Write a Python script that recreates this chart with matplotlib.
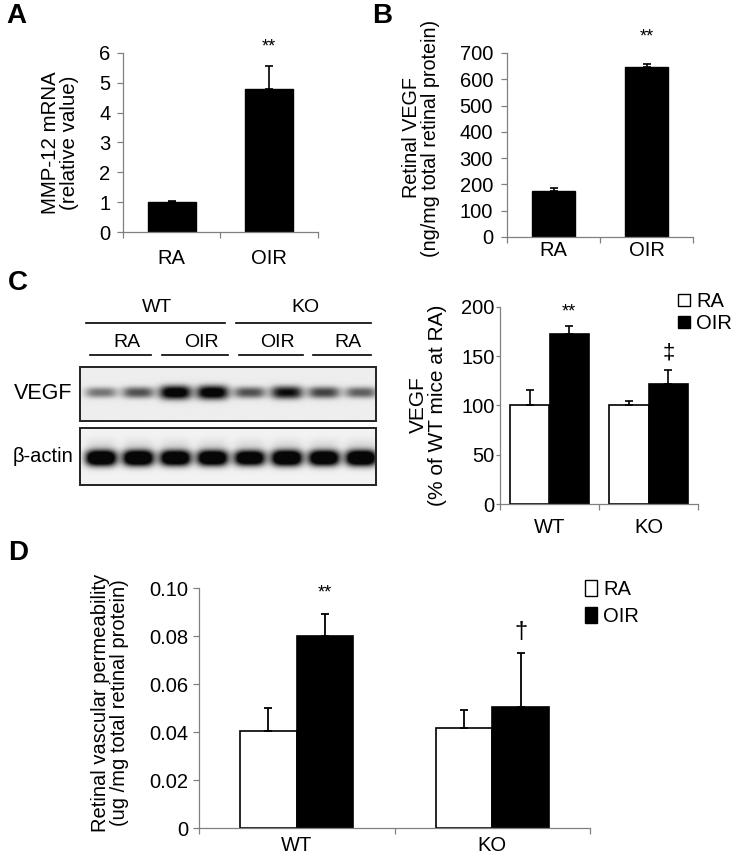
import numpy as np
import matplotlib
matplotlib.use("Agg")
import matplotlib.pyplot as plt
from matplotlib.patches import Patch, Rectangle

plt.rcParams['font.family'] = ['Liberation Sans', 'DejaVu Sans']

# ---- data ----
conditions = ['RA', 'OIR']
genotypes = ['WT', 'KO']

# A: MMP-12 mRNA
mmp12_vals = [1.0, 4.8]
mmp12_err = [0.03, 0.75]

# B: retinal VEGF (ELISA)
vegf_elisa_vals = [175, 645]
vegf_elisa_err = [13, 13]

# C: VEGF western quantification (% of WT RA)
vegf_wb_ra = [100, 100]
vegf_wb_ra_err = [16, 5]
vegf_wb_oir = [173, 122]
vegf_wb_oir_err = [8, 14]

# C: blot lanes
blot_groups = ['WT', 'KO']
blot_lanes = ['RA', 'OIR', 'OIR', 'RA']
vegf_band = [0.42, 0.55, 0.97, 0.97, 0.55, 0.8, 0.6, 0.5]
actin_band = [1.0, 1.0, 0.97, 0.97, 0.93, 1.0, 0.97, 1.0]

# D: vascular permeability
perm_ra = [0.0405, 0.0415]
perm_ra_err = [0.0095, 0.0075]
perm_oir = [0.080, 0.0505]
perm_oir_err = [0.009, 0.0225]

W, H = 734, 863
fig = plt.figure(figsize=(W / 100, H / 100), dpi=100)
GRAY = '#808080'


def add_ax(l, t, r, b):
    return fig.add_axes([l / W, 1 - b / H, (r - l) / W, (b - t) / H])


def style(ax, cats, fs, xpad, ypad, ylen=4):
    for s in ['top', 'right']:
        ax.spines[s].set_visible(False)
    for s in ['left', 'bottom']:
        ax.spines[s].set_color(GRAY)
        ax.spines[s].set_linewidth(0.9)
    ax.set_xlim(0, 2)
    ax.set_xticks([0, 1, 2])
    ax.set_xticklabels([])
    ax.set_xticks([0.5, 1.5], minor=True)
    ax.set_xticklabels(cats, minor=True)
    ax.tick_params(axis='x', which='major', length=4, width=0.9, color=GRAY)
    ax.tick_params(axis='x', which='minor', length=0, labelsize=fs, pad=xpad)
    ax.tick_params(axis='y', length=ylen, width=0.9, color=GRAY, labelsize=fs, pad=ypad)


def ftext(x, y, s, **kw):
    fig.text(x / W, 1 - y / H, s, **kw)


# ---- A ----
axA = add_ax(123, 53, 318, 232)
xA = np.array([0.5, 1.5])
axA.bar(xA, mmp12_vals, width=0.49, color='black', edgecolor='black', lw=1)
axA.errorbar(xA, mmp12_vals, yerr=[np.zeros(2), mmp12_err], fmt='none',
             ecolor='black', elinewidth=1.2, capsize=3, capthick=1.2)
axA.set_ylim(0, 6)
axA.set_yticks(range(0, 7))
style(axA, conditions, 14.5, 12, 5)
axA.text(1.5, 6.2, '**', ha='center', va='center', fontsize=13, clip_on=False)
ftext(60, 143, 'MMP-12 mRNA\n(relative value)', rotation=90, ha='center',
      va='center', fontsize=14.8, linespacing=1.0)
ftext(6, 16, 'A', fontsize=20, fontweight='bold', va='center')

# ---- B ----
axB = add_ax(507, 53, 693, 237)
axB.bar(xA, vegf_elisa_vals, width=0.47, color='black', edgecolor='black', lw=1)
axB.errorbar(xA, vegf_elisa_vals, yerr=[np.zeros(2), vegf_elisa_err], fmt='none',
             ecolor='black', elinewidth=1.2, capsize=3, capthick=1.2)
axB.set_ylim(0, 700)
axB.set_yticks(range(0, 701, 100))
style(axB, conditions, 14.5, 3, 6)
axB.text(1.5, 761, '**', ha='center', va='center', fontsize=13, clip_on=False)
ftext(421, 138, 'Retinal VEGF\n(ng/mg total retinal protein)', rotation=90,
      ha='center', va='center', fontsize=14.2, linespacing=1.0)
ftext(372, 16, 'B', fontsize=20, fontweight='bold', va='center')

# ---- C quantification ----
axC = add_ax(500, 307, 698, 504)
xC = np.array([0.5, 1.5])
axC.bar(xC - 0.2, vegf_wb_ra, width=0.4, color='white', edgecolor='black', lw=1.2)
axC.bar(xC + 0.2, vegf_wb_oir, width=0.4, color='black', edgecolor='black', lw=1.2)
axC.errorbar(xC - 0.2, vegf_wb_ra, yerr=[np.zeros(2), vegf_wb_ra_err], fmt='none',
             ecolor='black', elinewidth=1.2, capsize=3, capthick=1.2)
axC.errorbar(xC + 0.2, vegf_wb_oir, yerr=[np.zeros(2), vegf_wb_oir_err], fmt='none',
             ecolor='black', elinewidth=1.2, capsize=3, capthick=1.2)
axC.set_ylim(0, 200)
axC.set_yticks(range(0, 201, 50))
style(axC, genotypes, 14.5, 10, 1, ylen=3)
axC.text(0.7, 195, '**', ha='center', va='center', fontsize=13, clip_on=False)
axC.text(1.7, 153, '\u2021', ha='center', va='center', fontsize=16, clip_on=False)
axC.legend(handles=[Patch(facecolor='white', edgecolor='black', lw=1),
                    Patch(facecolor='black', edgecolor='black', lw=1)],
           labels=conditions, loc='upper left', bbox_to_anchor=(678 / W, 1 - 292 / H),
           bbox_transform=fig.transFigure, frameon=False, fontsize=14.5,
           handlelength=0.6, handleheight=0.6, handletextpad=0.3,
           labelspacing=0.15, borderpad=0, borderaxespad=0)
ftext(428, 405, 'VEGF\n(% of WT mice at RA)', rotation=90, ha='center',
      va='center', fontsize=15, linespacing=1.0)
ftext(8, 283, 'C', fontsize=20, fontweight='bold', va='center')

# ---- C western blot (drawn in pixel space) ----
canvas = fig.add_axes([0, 0, 1, 1], zorder=-1)
canvas.set_xlim(0, W)
canvas.set_ylim(H, 0)
canvas.axis('off')

lane_x = 101 + 37.2 * np.arange(8)


def blot(top, bottom, yc, vals, wx, sy, gain, bg, smear=0.0):
    xs = np.linspace(80, 376, 600)
    ys = np.linspace(top, bottom, 140)
    X, Y = np.meshgrid(xs, ys)
    d = np.zeros_like(X)
    for cx, v in zip(lane_x, vals):
        s = sy * (0.55 + 0.45 * v)
        hx = np.exp(-np.abs((X - cx) / wx) ** 3.5)
        d += gain * v * hx * np.exp(-np.abs((Y - yc) / s) ** 2.4)
        d += smear * hx * np.exp(-((Y - (yc - 14)) / 6) ** 2)
    d = np.clip(d, 0, 1)
    img = bg - d * (bg - 0.03)
    canvas.imshow(img, cmap='gray', vmin=0, vmax=1, extent=(80, 376, bottom, top),
                  origin='upper', interpolation='bilinear', aspect='auto')
    canvas.add_patch(Rectangle((80, top), 296, bottom - top, fill=False,
                               edgecolor='#222222', lw=1.4))


blot(367, 421, 393, vegf_band, 16, 7.0, 1.25, 0.93)
blot(428, 485, 458, actin_band, 15.5, 8.0, 1.6, 0.95, smear=0.08)

# group and lane headers
for i, g in enumerate(blot_groups):
    x0, x1 = [(86, 225), (236, 371)][i]
    canvas.plot([x0, x1], [323, 323], color='black', lw=1.2)
    canvas.text((x0 + x1) / 2 + 2, 307, g, ha='center', va='center', fontsize=14)
for i, lab in enumerate(blot_lanes):
    x0, x1 = [(90, 151), (162, 228), (239, 303), (313, 371)][i]
    canvas.plot([x0, x1], [355, 355], color='black', lw=1.2)
    canvas.text((x0 + x1) / 2 + 6, 342, lab, ha='center', va='center', fontsize=14)
canvas.text(14, 393, 'VEGF', ha='left', va='center', fontsize=15.5)
canvas.text(13, 456, '\u03b2-actin', ha='left', va='center', fontsize=14.5)

# ---- D ----
axD = add_ax(199, 588, 590, 828)
xD = np.array([0.5, 1.5])
axD.bar(xD - 0.145, perm_ra, width=0.29, color='white', edgecolor='black', lw=1.2)
axD.bar(xD + 0.145, perm_oir, width=0.29, color='black', edgecolor='black', lw=1.2)
axD.errorbar(xD - 0.145, perm_ra, yerr=[np.zeros(2), perm_ra_err], fmt='none',
             ecolor='black', elinewidth=1.3, capsize=3, capthick=1.3)
axD.errorbar(xD + 0.145, perm_oir, yerr=[np.zeros(2), perm_oir_err], fmt='none',
             ecolor='black', elinewidth=1.3, capsize=3, capthick=1.3)
axD.set_ylim(0, 0.10)
axD.set_yticks([0, 0.02, 0.04, 0.06, 0.08, 0.10])
axD.set_yticklabels(['0', '0.02', '0.04', '0.06', '0.08', '0.10'])
style(axD, genotypes, 14.5, 6, 4)
axD.text(0.645, 0.098, '**', ha='center', va='center', fontsize=13, clip_on=False)
axD.text(1.645, 0.0817, '\u2020', ha='center', va='center', fontsize=17, clip_on=False)
axD.legend(handles=[Patch(facecolor='white', edgecolor='black', lw=1),
                    Patch(facecolor='black', edgecolor='black', lw=1)],
           labels=conditions, loc='upper left', bbox_to_anchor=(585 / W, 1 - 580 / H),
           bbox_transform=fig.transFigure, frameon=False, fontsize=14.5,
           handlelength=0.6, handleheight=0.8, handletextpad=0.3,
           labelspacing=0.4, borderpad=0, borderaxespad=0)
ftext(110, 703, 'Retinal vascular permeability\n(ug /mg total retinal protein)',
      rotation=90, ha='center', va='center', fontsize=14.5, linespacing=1.0)
ftext(8, 553, 'D', fontsize=20, fontweight='bold', va='center')

fig.savefig('out.png', dpi=100)
